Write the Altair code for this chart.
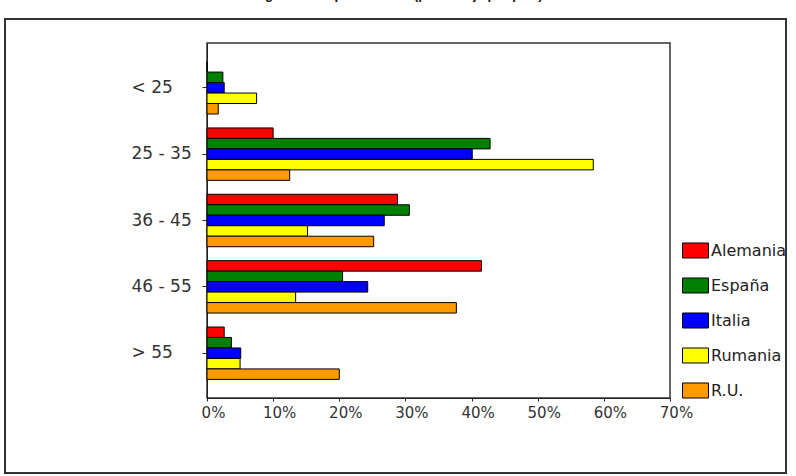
import altair as alt
import pandas as pd

age_groups = ["< 25", "25 - 35", "36 - 45", "46 - 55", "> 55"]
countries = ["Alemania", "España", "Italia", "Rumania", "R.U."]
colors = ["#ff0000", "#008000", "#0000ff", "#ffff00", "#ff9900"]

alemania = [0.0, 0.100, 0.288, 0.415, 0.026]
espana = [0.024, 0.428, 0.306, 0.205, 0.037]
italia = [0.026, 0.401, 0.268, 0.243, 0.051]
rumania = [0.075, 0.584, 0.152, 0.134, 0.050]
ru = [0.017, 0.125, 0.252, 0.377, 0.200]

x_ticks = [0, 0.1, 0.2, 0.3, 0.4, 0.5, 0.6, 0.7]
title_text = "Figura 6. Grupos de edad (porcentaje por país)"

series = [alemania, espana, italia, rumania, ru]
rows = []
for c, vals in zip(countries, series):
    for g, v in zip(age_groups, vals):
        rows.append({"grupo": g, "pais": c, "valor": v})
df = pd.DataFrame(rows)

FONT = "DejaVu Sans"

bars = alt.Chart(df).mark_bar(stroke="black", strokeWidth=1).encode(
    y=alt.Y("grupo:N", sort=age_groups, title=None,
            scale=alt.Scale(paddingInner=0.21, paddingOuter=0.28),
            axis=alt.Axis(labelAlign="left", labelPadding=71, tickSize=5,
                          labelFontSize=17, labelFont=FONT, labelColor="#333333",
                          domainColor="#222222", tickColor="#222244",
                          labelBaseline="middle")),
    yOffset=alt.YOffset("pais:N", sort=countries),
    x=alt.X("valor:Q", title=None,
            scale=alt.Scale(domain=[0, 0.7], nice=False),
            axis=alt.Axis(values=x_ticks, format=".0%", grid=False, tickSize=3,
                          labelFontSize=15, labelFont=FONT, labelColor="#333333",
                          domainColor="#222222", tickColor="#222222",
                          labelPadding=4, labelFlush=False, labelOffset=6)),
    color=alt.Color("pais:N", sort=countries,
                    scale=alt.Scale(domain=countries, range=colors),
                    legend=alt.Legend(title=None, orient="none", legendX=475,
                                      legendY=194, padding=0, rowPadding=11,
                                      symbolType="M-1,-0.577H1V0.577H-1Z",
                                      symbolSize=676, symbolStrokeColor="black",
                                      symbolStrokeWidth=1, symbolOpacity=1,
                                      labelFontSize=16, labelFont=FONT,
                                      labelColor="#222222", labelOffset=2)),
)

frame = alt.Chart(pd.DataFrame({"a": [0]})).mark_rect(
    fill=None, stroke="#333333", strokeWidth=2
).encode(
    x=alt.value(-202), x2=alt.value(579), y=alt.value(-24), y2=alt.value(430)
)

title = alt.Chart(pd.DataFrame({"t": [title_text]})).mark_text(
    fontSize=13, font="Liberation Sans", fontWeight="bold", baseline="alphabetic",
    align="center", color="#111111"
).encode(text="t:N", x=alt.value(191), y=alt.value(-44))

chart = alt.layer(bars, frame, title).properties(
    width=463, height=355,
    padding={"left": 207, "top": 43, "right": 126, "bottom": 78},
    autosize=alt.AutoSizeParams(type="none"),
    background="white",
).configure_view(stroke="#333333", strokeWidth=1.5)

chart.save("out.html", embed_options={"renderer": "svg", "actions": False})
